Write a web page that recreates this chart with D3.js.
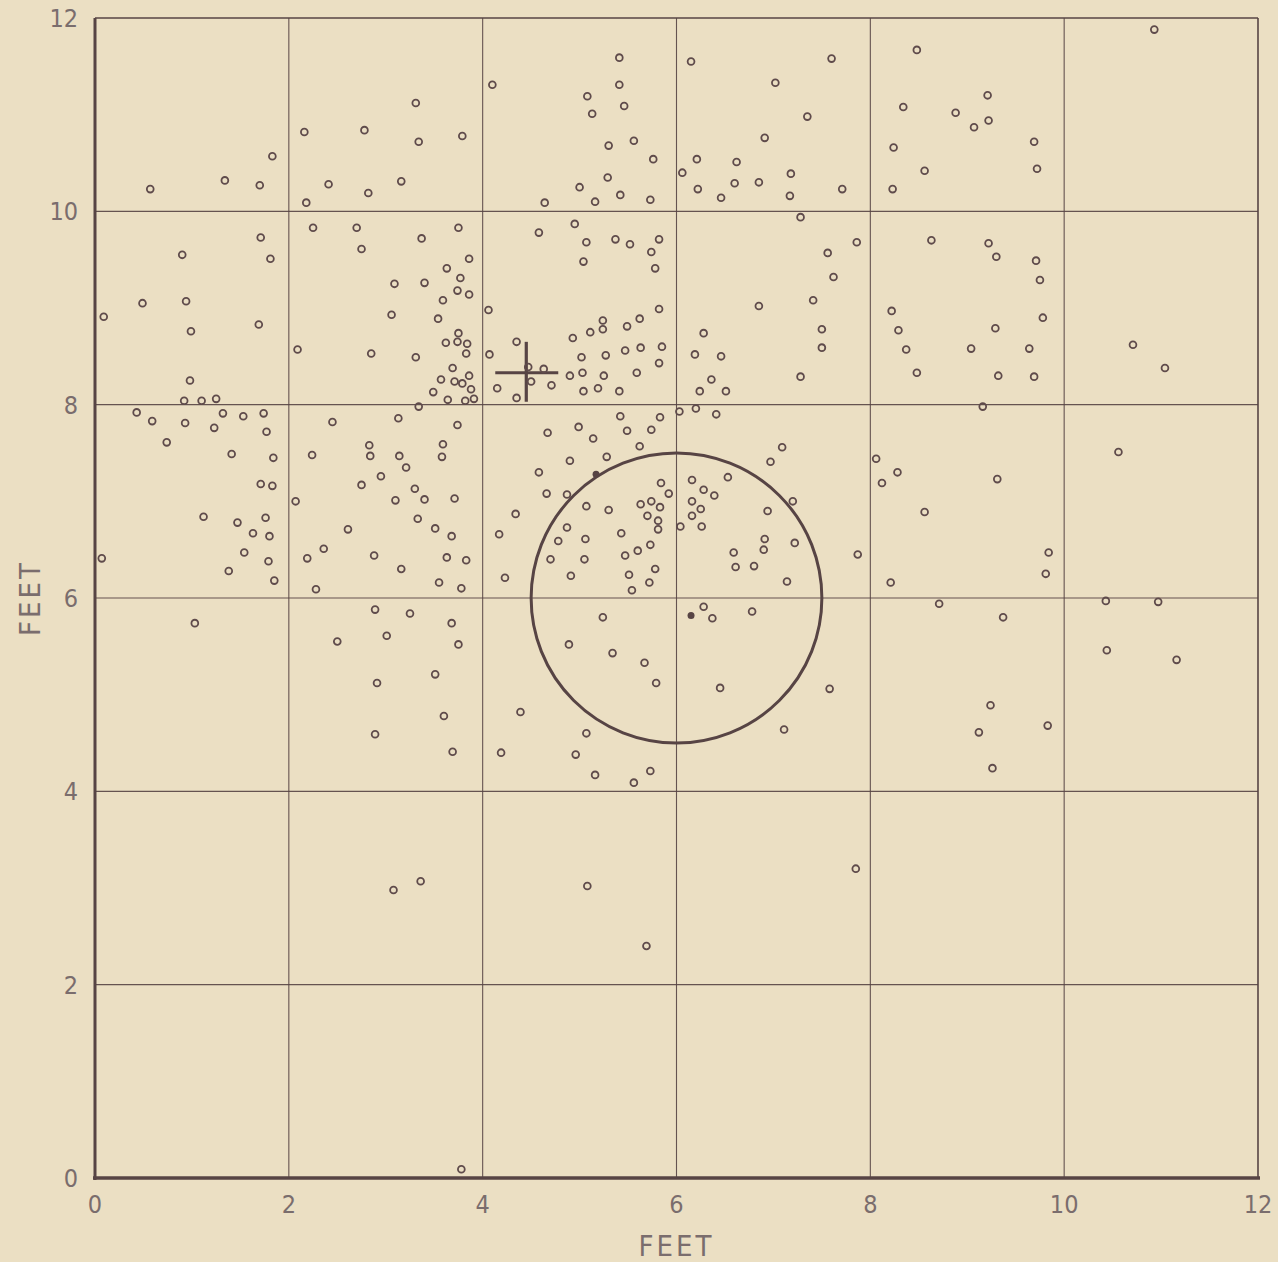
<!DOCTYPE html>
<html>
<head>
<meta charset="utf-8">
<script src="https://cdn.jsdelivr.net/npm/d3@7"></script>
<style>
  body { margin: 0; background: #ebdfc3; }
  svg { display: block; }
  .tick-label, .axis-title { font-family: "Liberation Sans Narrow", "DejaVu Sans Condensed", sans-serif; fill: #7a6d6d; }
</style>
</head>
<body>
<svg id="chart" width="1278" height="1262"></svg>
<script>
// tick values (feet)
var xTicks = [0, 2, 4, 6, 8, 10, 12];
var yTicks = [0, 2, 4, 6, 8, 10, 12];

// open circles, [x feet, y feet]
var holes = [
  [0.57,10.23],[1.34,10.32],[1.70,10.27],[1.83,10.57],[2.16,10.82],[2.18,10.09],[2.41,10.28],[2.78,10.84],
  [2.82,10.19],[3.16,10.31],[3.31,11.12],[3.34,10.72],[3.79,10.78],
  [4.10,11.31],[5.41,11.59],[5.41,11.31],[5.08,11.19],[5.46,11.09],[5.13,11.01],[5.30,10.68],[5.56,10.73],
  [5.76,10.54],[5.29,10.35],[5.00,10.25],[4.64,10.09],[5.16,10.10],[5.42,10.17],[5.73,10.12],
  [6.15,11.55],[7.60,11.58],[7.02,11.33],[7.35,10.98],[6.91,10.76],[6.21,10.54],[6.62,10.51],[6.06,10.40],
  [7.18,10.39],[6.22,10.23],[6.60,10.29],[6.85,10.30],[6.46,10.14],[7.17,10.16],[7.71,10.23],
  [8.48,11.67],[10.93,11.88],[9.21,11.20],[8.34,11.08],[8.88,11.02],[9.22,10.94],[9.07,10.87],[8.24,10.66],
  [9.69,10.72],[8.56,10.42],[9.72,10.44],[8.23,10.23],
  [0.09,8.91],[0.49,9.05],[0.90,9.55],[0.94,9.07],[0.99,8.76],[1.71,9.73],[1.81,9.51],[1.69,8.83],
  [0.98,8.25],[0.92,8.04],[1.10,8.04],[1.25,8.06],[2.09,8.57],[2.25,9.83],[2.70,9.83],[2.75,9.61],
  [3.37,9.72],[3.75,9.83],[3.86,9.51],[3.09,9.25],[3.40,9.26],[3.63,9.41],[3.77,9.31],[3.74,9.18],
  [3.86,9.14],[3.59,9.08],[3.06,8.93],[3.54,8.89],[2.85,8.53],[3.31,8.49],[3.75,8.74],[3.62,8.64],
  [3.74,8.65],[3.84,8.63],[3.83,8.53],[3.69,8.38],[3.86,8.30],[3.57,8.26],[3.71,8.24],[3.79,8.22],
  [3.88,8.16],[3.49,8.13],[3.64,8.05],[3.82,8.04],[3.91,8.06],[3.34,7.98],
  [4.58,9.78],[4.95,9.87],[5.07,9.68],[5.04,9.48],[5.37,9.71],[5.52,9.66],[5.82,9.71],[5.74,9.58],
  [5.78,9.41],[7.28,9.94],[7.86,9.68],[7.56,9.57],[7.62,9.32],[7.41,9.08],[6.85,9.02],[7.50,8.78],
  [7.50,8.59],[7.28,8.29],[4.06,8.98],[5.82,8.99],[5.24,8.87],[5.24,8.78],[5.62,8.89],[5.49,8.81],
  [5.11,8.75],[4.93,8.69],[4.35,8.65],[4.07,8.52],[5.02,8.49],[5.27,8.51],[5.47,8.56],[5.63,8.59],
  [5.85,8.60],[5.82,8.43],[5.59,8.33],[5.25,8.30],[5.03,8.33],[4.90,8.30],[5.41,8.14],[5.19,8.17],
  [5.04,8.14],[4.15,8.17],[4.35,8.07],[4.71,8.20],[4.63,8.37],[4.47,8.39],[4.50,8.24],
  [6.28,8.74],[6.19,8.52],[6.46,8.50],[6.36,8.26],[6.24,8.14],[6.51,8.14],
  [8.63,9.70],[9.22,9.67],[9.30,9.53],[9.71,9.49],[9.75,9.29],[8.22,8.97],[9.78,8.90],[8.29,8.77],
  [9.29,8.79],[8.37,8.57],[9.04,8.58],[9.64,8.58],[8.48,8.33],[9.32,8.30],[9.69,8.29],[10.71,8.62],
  [11.04,8.38],[9.16,7.98],
  [0.43,7.92],[0.59,7.83],[0.74,7.61],[0.93,7.81],[1.32,7.91],[1.23,7.76],[1.53,7.88],[1.74,7.91],
  [1.77,7.72],[1.41,7.49],[1.84,7.45],[1.71,7.18],[1.83,7.16],[0.07,6.41],[1.12,6.84],[1.47,6.78],
  [1.76,6.83],[1.63,6.67],[1.80,6.64],[1.54,6.47],[1.79,6.38],[1.38,6.28],[1.85,6.18],[2.45,7.82],
  [2.24,7.48],[2.07,7.00],[3.13,7.86],[3.74,7.79],[2.83,7.58],[2.84,7.47],[3.14,7.47],[3.59,7.59],
  [3.58,7.46],[3.21,7.35],[2.95,7.26],[2.75,7.17],[3.30,7.13],[3.10,7.01],[3.40,7.02],[3.71,7.03],
  [2.61,6.71],[3.33,6.82],[3.51,6.72],[3.68,6.64],[2.36,6.51],[2.19,6.41],[2.88,6.44],[3.63,6.42],
  [3.83,6.39],[3.16,6.30],[3.55,6.16],[3.78,6.10],[2.28,6.09],
  [5.42,7.88],[5.83,7.87],[6.03,7.93],[6.20,7.96],[6.41,7.90],[4.67,7.71],[4.99,7.77],[5.14,7.65],
  [5.49,7.73],[5.74,7.74],[5.62,7.57],[5.28,7.46],[4.90,7.42],[4.58,7.30],[7.09,7.56],[6.97,7.41],
  [6.53,7.25],[4.66,7.08],[4.87,7.07],[4.34,6.87],[4.17,6.66],[5.07,6.95],[5.30,6.91],[5.84,7.19],
  [5.92,7.08],[6.16,7.22],[6.28,7.12],[6.39,7.06],[5.63,6.97],[5.74,7.00],[5.83,6.94],[6.16,7.00],
  [6.25,6.92],[5.70,6.85],[5.81,6.80],[5.81,6.71],[6.16,6.85],[6.04,6.74],[6.26,6.74],[7.20,7.00],
  [6.94,6.90],[6.91,6.61],[6.90,6.50],[7.22,6.57],[6.59,6.47],[6.61,6.32],[6.80,6.33],[7.14,6.17],
  [7.87,6.45],[4.87,6.73],[4.78,6.59],[5.06,6.61],[5.43,6.67],[4.70,6.40],[5.05,6.40],[5.47,6.44],
  [5.60,6.49],[5.73,6.55],[4.23,6.21],[4.91,6.23],[5.51,6.24],[5.78,6.30],[5.72,6.16],[5.54,6.08],
  [8.06,7.44],[8.28,7.30],[8.12,7.19],[9.31,7.23],[8.56,6.89],[10.56,7.51],[9.84,6.47],[9.81,6.25],
  [8.21,6.16],
  [1.03,5.74],[2.89,5.88],[3.25,5.84],[3.68,5.74],[2.50,5.55],[3.01,5.61],[3.75,5.52],[3.51,5.21],
  [2.91,5.12],[3.60,4.78],[2.89,4.59],[3.69,4.41],[4.39,4.82],[4.19,4.40],[5.24,5.80],[4.89,5.52],
  [5.34,5.43],[5.67,5.33],[5.79,5.12],[5.07,4.60],[4.96,4.38],[5.16,4.17],[5.56,4.09],[5.73,4.21],
  [6.28,5.91],[6.37,5.79],[6.78,5.86],[6.45,5.07],[7.58,5.06],[7.11,4.64],[8.71,5.94],[9.37,5.80],
  [9.24,4.89],[9.12,4.61],[9.83,4.68],[9.26,4.24],[10.43,5.97],[10.97,5.96],[10.44,5.46],[11.16,5.36],
  [3.08,2.98],[3.36,3.07],[5.08,3.02],[5.69,2.40],[7.85,3.20],[3.78,0.09]
];

// solid dots
var solidDots = [[5.17,7.28],[6.15,5.82]];

// cross: vertical line at x, horizontal line at y, with extents
var crossX = [4.13, 4.78];
var crossY = [8.03, 8.65];
var crossAt = [4.45, 8.33];

// circle centre and radius (feet)
var ringCentre = [6, 6];
var ringRadius = 1.5;

var ink = "#574444";

var svg = d3.select("#chart");

var x = d3.scaleLinear().domain([0, 12]).range([95, 1258]);
var y = d3.scaleLinear().domain([0, 12]).range([1178, 18]);

// grid
var grid = svg.append("g");
grid.selectAll(".vg").data(xTicks.slice(1, -1)).enter().append("line")
  .attr("x1", function(d) { return x(d); }).attr("x2", function(d) { return x(d); })
  .attr("y1", y(0)).attr("y2", y(12))
  .attr("stroke", ink).attr("stroke-width", 1.1).attr("stroke-opacity", 0.9);
grid.selectAll(".hg").data(yTicks.slice(1, -1)).enter().append("line")
  .attr("x1", x(0)).attr("x2", x(12))
  .attr("y1", function(d) { return y(d); }).attr("y2", function(d) { return y(d); })
  .attr("stroke", ink).attr("stroke-width", 1.1).attr("stroke-opacity", 0.9);

// top and right frame
grid.append("line").attr("x1", x(0)).attr("x2", x(12)).attr("y1", y(12)).attr("y2", y(12))
  .attr("stroke", ink).attr("stroke-width", 1.6);
grid.append("line").attr("x1", x(12)).attr("x2", x(12)).attr("y1", y(0)).attr("y2", y(12))
  .attr("stroke", ink).attr("stroke-width", 1.6);

// main axes, heavier
grid.append("line").attr("x1", x(0)).attr("x2", x(0)).attr("y1", y(0) + 2).attr("y2", y(12))
  .attr("stroke", ink).attr("stroke-width", 3);
grid.append("line").attr("x1", x(0) - 2).attr("x2", x(12) + 2).attr("y1", y(0)).attr("y2", y(0))
  .attr("stroke", ink).attr("stroke-width", 3.5);

// tick labels
svg.selectAll(".xl").data(xTicks).enter().append("text")
  .attr("class", "tick-label")
  .attr("x", function(d) { return x(d); })
  .attr("y", y(0) + 35)
  .attr("text-anchor", "middle")
  .attr("font-size", 25)
  .text(function(d) { return d; });
svg.selectAll(".yl").data(yTicks).enter().append("text")
  .attr("class", "tick-label")
  .attr("x", x(0) - 17)
  .attr("y", function(d) { return y(d) + 9; })
  .attr("text-anchor", "end")
  .attr("font-size", 25)
  .text(function(d) { return d; });

// axis titles
svg.append("text").attr("class", "axis-title")
  .attr("x", x(6)).attr("y", 1256)
  .attr("text-anchor", "middle").attr("font-size", 29).attr("letter-spacing", 3)
  .text("FEET");
svg.append("text").attr("class", "axis-title")
  .attr("transform", "translate(40," + y(6) + ") rotate(-90)")
  .attr("text-anchor", "middle").attr("font-size", 29).attr("letter-spacing", 3)
  .text("FEET");

// the ring
svg.append("ellipse")
  .attr("cx", x(ringCentre[0])).attr("cy", y(ringCentre[1]))
  .attr("rx", x(ringRadius) - x(0)).attr("ry", y(0) - y(ringRadius))
  .attr("fill", "none").attr("stroke", ink).attr("stroke-width", 3);

// cross
svg.append("line").attr("x1", x(crossX[0])).attr("x2", x(crossX[1]))
  .attr("y1", y(crossAt[1])).attr("y2", y(crossAt[1]))
  .attr("stroke", ink).attr("stroke-width", 3.2);
svg.append("line").attr("x1", x(crossAt[0])).attr("x2", x(crossAt[0]))
  .attr("y1", y(crossY[0])).attr("y2", y(crossY[1]))
  .attr("stroke", ink).attr("stroke-width", 3.2);

// points
svg.append("g").selectAll("circle").data(holes).enter().append("circle")
  .attr("cx", function(d) { return x(d[0]); })
  .attr("cy", function(d) { return y(d[1]); })
  .attr("r", 3.4)
  .attr("fill", "none")
  .attr("stroke", "#5f4b4b")
  .attr("stroke-width", 1.8);

svg.append("g").selectAll("circle").data(solidDots).enter().append("circle")
  .attr("cx", function(d) { return x(d[0]); })
  .attr("cy", function(d) { return y(d[1]); })
  .attr("r", 3.5)
  .attr("fill", ink);
</script>
</body>
</html>
